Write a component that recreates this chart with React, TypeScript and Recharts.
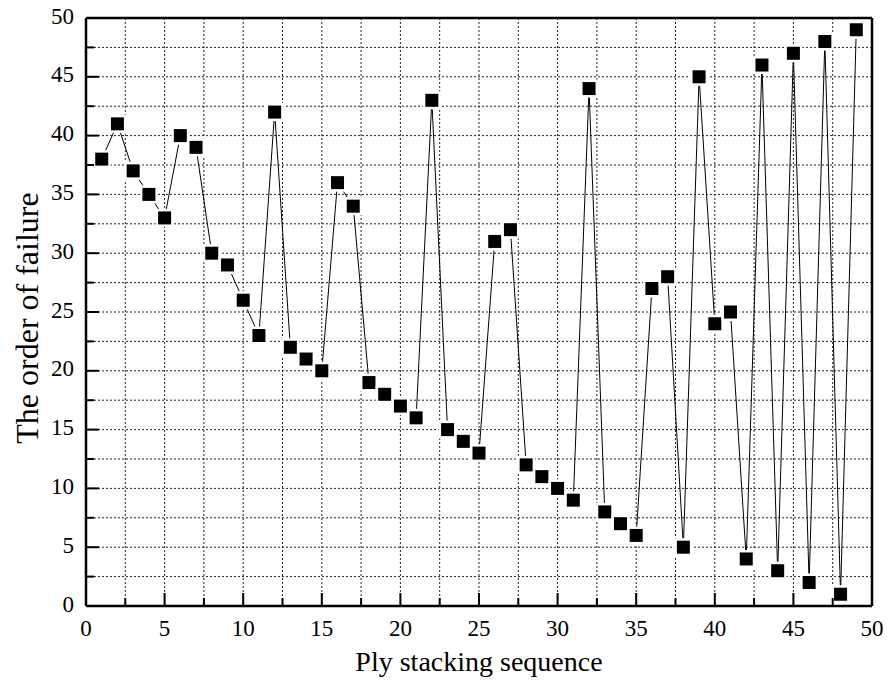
import React from 'react';
import {
  LineChart,
  Line,
  XAxis,
  YAxis,
  CartesianGrid,
  ReferenceLine,
  Label,
} from 'recharts';

// ply position in the stacking sequence
const plySequence = [
  1, 2, 3, 4, 5, 6, 7, 8, 9, 10, 11, 12, 13, 14, 15, 16, 17, 18, 19, 20, 21, 22, 23, 24, 25,
  26, 27, 28, 29, 30, 31, 32, 33, 34, 35, 36, 37, 38, 39, 40, 41, 42, 43, 44, 45, 46, 47, 48, 49,
];

// order in which each ply fails
const failureOrder = [
  38, 41, 37, 35, 33, 40, 39, 30, 29, 26, 23, 42, 22, 21, 20, 36, 34, 19, 18, 17, 16, 43, 15, 14, 13,
  31, 32, 12, 11, 10, 9, 44, 8, 7, 6, 27, 28, 5, 45, 24, 25, 4, 46, 3, 47, 2, 48, 1, 49,
];

const xTicks = [0, 2.5, 5, 7.5, 10, 12.5, 15, 17.5, 20, 22.5, 25, 27.5, 30, 32.5, 35, 37.5, 40, 42.5, 45, 47.5, 50];
const yTicks = [0, 2.5, 5, 7.5, 10, 12.5, 15, 17.5, 20, 22.5, 25, 27.5, 30, 32.5, 35, 37.5, 40, 42.5, 45, 47.5, 50];

const xTitle = 'Ply stacking sequence';
const yTitle = 'The order of failure';

const FONT = '"Liberation Serif", "Times New Roman", serif';
const textStyle = { fontFamily: FONT };

const isMajor = (v: number) => v % 5 === 0;

const BottomTick = (props: any) => {
  const { x, y, payload } = props;
  const major = isMajor(payload.value);
  return (
    <g>
      <line x1={x} x2={x} y1={y} y2={y - (major ? 13 : 8)} stroke="#000" strokeWidth={2} />
      {major && (
        <text x={x} y={y + 30} textAnchor="middle" fontSize={23} fill="#000" style={textStyle}>
          {payload.value}
        </text>
      )}
    </g>
  );
};

const LeftTick = (props: any) => {
  const { x, y, payload } = props;
  const major = isMajor(payload.value);
  return (
    <g>
      <line x1={x} x2={x + (major ? 13 : 8)} y1={y} y2={y} stroke="#000" strokeWidth={2} />
      {major && (
        <text x={x - 12} y={y} dy="0.24em" textAnchor="end" fontSize={23} fill="#000" style={textStyle}>
          {payload.value}
        </text>
      )}
    </g>
  );
};

const SquareDot = (props: any) => {
  const { cx, cy, index } = props;
  if (cx == null || cy == null) return null;
  return (
    <g key={`dot-${index}`}>
      <rect x={cx - 9} y={cy - 9} width={18} height={18} fill="#fff" />
      <rect x={cx - 6.5} y={cy - 6.5} width={13} height={13} fill="#000" />
    </g>
  );
};

const App: React.FC = () => {
  const chartData = plySequence.map((ply, i) => ({ ply, order: failureOrder[i] }));

  return (
    <div style={{ position: 'absolute', left: 0, top: 0, width: 888, height: 684, background: '#fff', fontFamily: FONT }}>
      <LineChart
        width={888}
        height={684}
        data={chartData}
        margin={{ top: 18, right: 16, left: 0, bottom: 0 }}
        style={{ fontFamily: FONT }}
      >
        <CartesianGrid stroke="#222" strokeDasharray="2 2" strokeWidth={1} />
        <XAxis
          dataKey="ply"
          type="number"
          domain={[0, 50]}
          ticks={xTicks}
          interval={0}
          height={78}
          tickLine={false}
          tickSize={0}
          tickMargin={0}
          tick={<BottomTick />}
          axisLine={{ stroke: '#000', strokeWidth: 2.5 }}
          allowDataOverflow
        >
          <Label
            content={({ viewBox }: any) => (
              <text
                x={viewBox.x + viewBox.width / 2}
                y={viewBox.y + 65}
                textAnchor="middle"
                fontSize={28}
                fill="#000"
                style={textStyle}
              >
                {xTitle}
              </text>
            )}
          />
        </XAxis>
        <YAxis
          type="number"
          domain={[0, 50]}
          ticks={yTicks}
          interval={0}
          width={86}
          tickLine={false}
          tickSize={0}
          tickMargin={0}
          tick={<LeftTick />}
          axisLine={{ stroke: '#000', strokeWidth: 2.5 }}
          allowDataOverflow
        >
          <Label
            content={({ viewBox }: any) => {
              const cx = 38;
              const cy = viewBox.y + viewBox.height / 2 + 6;
              return (
                <text
                  x={cx}
                  y={cy}
                  transform={`rotate(-90 ${cx} ${cy})`}
                  textAnchor="middle"
                  fontSize={32}
                  fill="#000"
                  style={textStyle}
                >
                  {yTitle}
                </text>
              );
            }}
          />
        </YAxis>
        <ReferenceLine y={50} stroke="#000" strokeWidth={2.5} />
        <ReferenceLine x={50} stroke="#000" strokeWidth={2.5} />
        <Line
          type="linear"
          dataKey="order"
          stroke="#000"
          strokeWidth={1}
          dot={<SquareDot />}
          activeDot={false}
          isAnimationActive={false}
        />
      </LineChart>
    </div>
  );
};

export default App;
